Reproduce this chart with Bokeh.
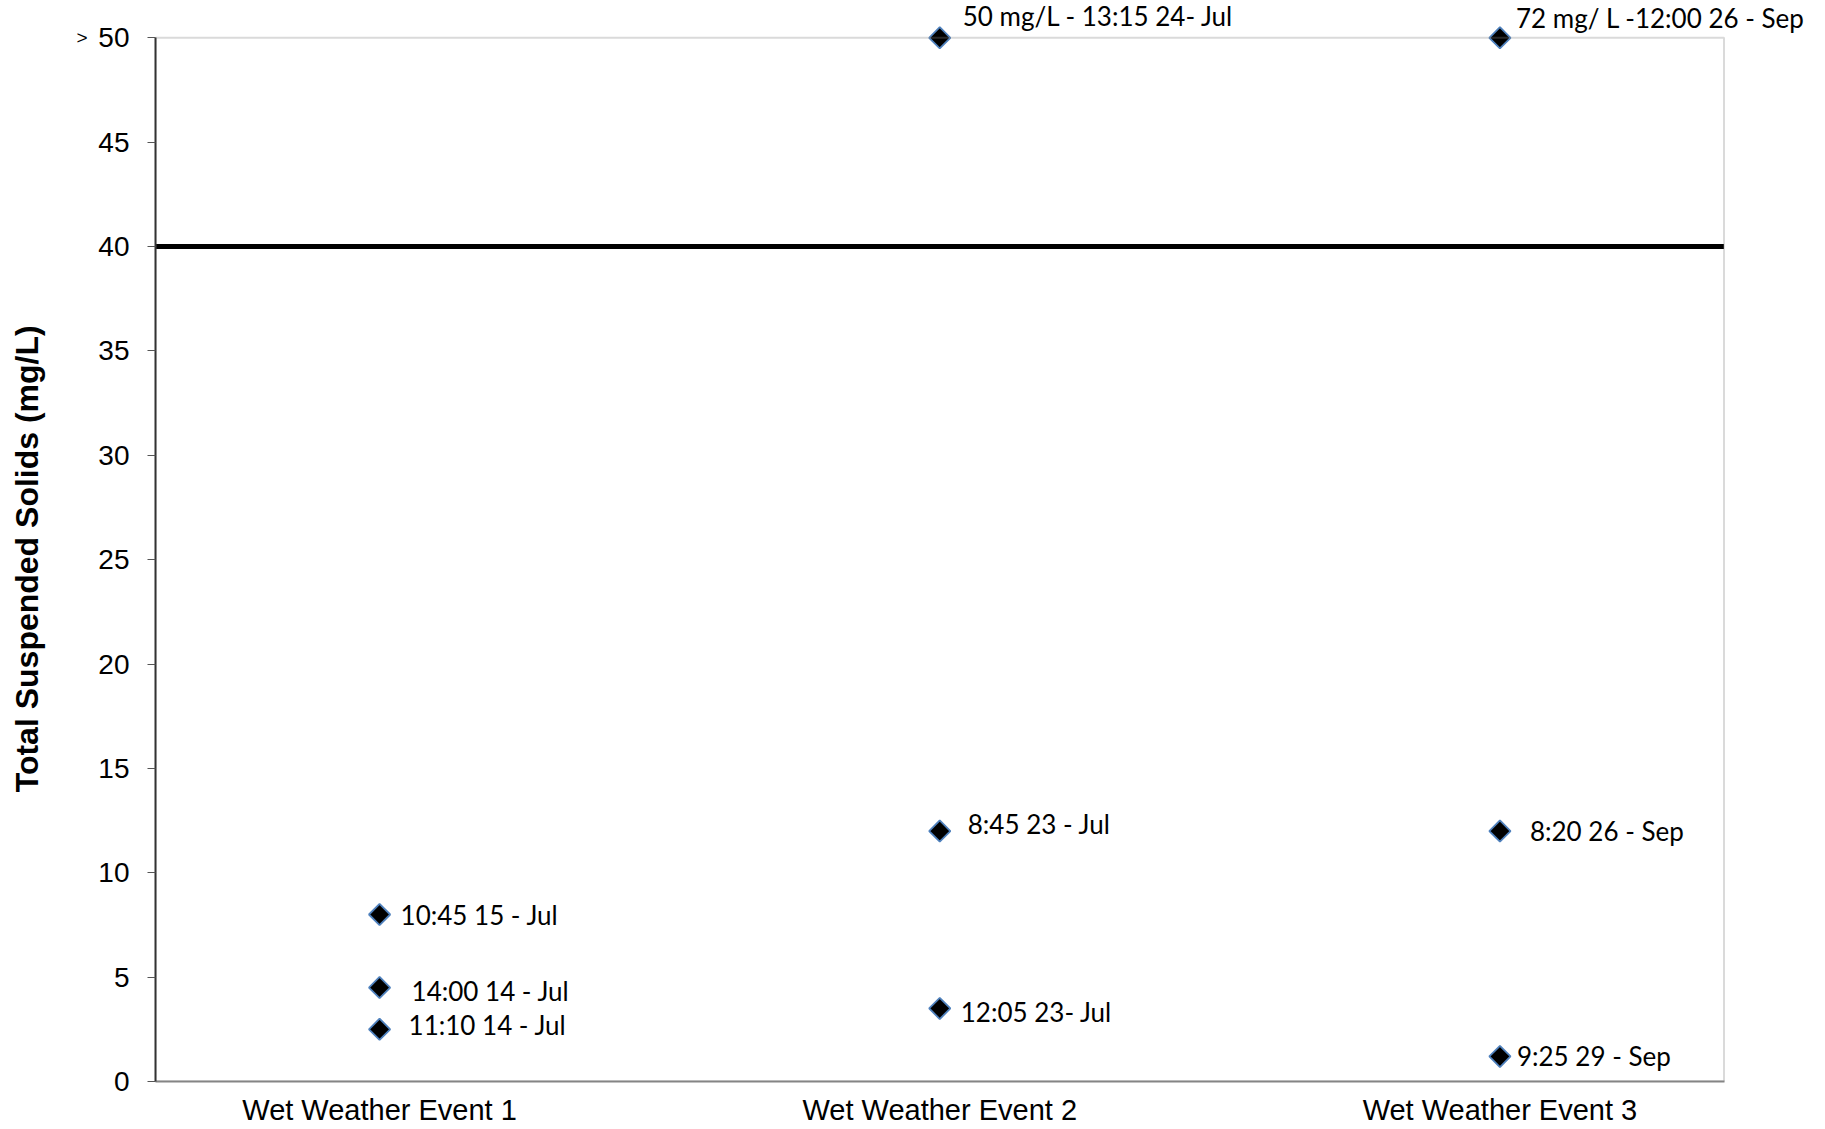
import math
from bokeh.plotting import figure
from bokeh.models import Range1d, FixedTicker, Label, BoxAnnotation, LinearAxis
from bokeh.embed import file_html
from bokeh.resources import INLINE

# ---- data ----
events = ["Wet Weather Event 1", "Wet Weather Event 2", "Wet Weather Event 3"]
event_pos = [1, 2, 3]
point_event = [1, 1, 1, 2, 2, 2, 3, 3, 3]
tss = [8.0, 4.5, 2.5, 12.0, 3.5, 50.0, 12.0, 1.2, 50.0]
point_labels = ["10:45 15 - Jul", "14:00 14 - Jul", "11:10 14 - Jul",
                "8:45 23 - Jul", "12:05 23- Jul", "50 mg/L - 13:15 24- Jul",
                "8:20 26 - Sep", "9:25 29 - Sep", "72 mg/ L -12:00 26 - Sep"]
y_ticks = [0, 5, 10, 15, 20, 25, 30, 35, 40, 45, 50]
y_title = "Total Suspended Solids (mg/L)"
threshold = 40
y_max = 50

# ---- style (label offsets in screen px) ----
lab_dx = [21, 32, 29, 28, 21, 23, 30, 17, 16]
lab_dy = [0, -3, 4, 7, -4, 22, 0, 0, 20]

W, H = 1825, 1129
FL, FR, FT, FB = 155, 1723.5, 37.3, 1081   # visible plot box in px
X0, X1 = 0.6, 3.4
x_end = X0 + (X1 - X0) * (W - FL) / (FR - FL)
y_end = y_max * FB / (FB - FT)

p = figure(width=W, height=H, x_range=Range1d(X0, x_end), y_range=Range1d(0, y_end),
           output_backend="svg", toolbar_location=None,
           min_border_left=FL, min_border_right=0, min_border_top=0, min_border_bottom=H - FB)
p.background_fill_color = "white"
p.border_fill_color = "white"
p.outline_line_color = None
p.xgrid.grid_line_color = None
p.ygrid.grid_line_color = None

# visible plot box (0..50)
p.add_layout(BoxAnnotation(left=X0, right=X1, bottom=0, top=y_max, fill_alpha=0,
                           line_color="#858585", line_width=2))

# threshold line
p.segment(x0=[X0], y0=[threshold], x1=[X1], y1=[threshold], line_color="black", line_width=5)

# y axis (numbers)
ya = p.yaxis[0]
ya.ticker = FixedTicker(ticks=y_ticks)
ya.bounds = (0, y_max)
ya.axis_line_color = "#333333"
ya.axis_line_width = 2
ya.major_tick_out = 8
ya.major_tick_in = 0
ya.major_tick_line_color = "#555555"
ya.minor_tick_line_color = None
ya.major_label_text_font = "Liberation Sans"
ya.major_label_text_font_size = "28px"
ya.major_label_text_color = "black"
ya.major_label_standoff = 18
ya.level = "overlay"

# second left axis: ">" mark at top value and the axis title
yb = LinearAxis(ticker=FixedTicker(ticks=[y_max]), major_label_overrides={y_max: ">"})
yb.axis_line_color = None
yb.major_tick_line_color = None
yb.minor_tick_line_color = None
yb.major_tick_out = 0
yb.major_tick_in = 0
yb.major_label_text_font = "Liberation Sans"
yb.major_label_text_font_size = "19px"
yb.major_label_text_color = "black"
yb.major_label_standoff = 8
# trailing no-break spaces centre the title on the 0..50 box rather than the whole frame
yb.axis_label = y_title + "\u00a0" * 4
yb.axis_label_text_font = "Liberation Sans"
yb.axis_label_text_font_style = "bold"
yb.axis_label_text_font_size = "32px"
yb.axis_label_text_color = "black"
yb.axis_label_standoff = 28
p.add_layout(yb, "left")

# x axis
xa = p.xaxis[0]
xa.ticker = FixedTicker(ticks=event_pos)
xa.bounds = (X0, X1)
xa.major_label_overrides = {pos: name for pos, name in zip(event_pos, events)}
xa.axis_line_color = "#858585"
xa.axis_line_width = 2
xa.major_tick_line_color = None
xa.minor_tick_line_color = None
xa.major_tick_out = 0
xa.major_tick_in = 0
xa.major_label_text_font = "Liberation Sans"
xa.major_label_text_font_size = "29px"
xa.major_label_text_color = "black"
xa.major_label_standoff = 12

# points
p.scatter(point_event, tss, marker="square", angle=math.pi / 4, size=15,
          fill_color="black", line_color="#4F81BD", line_width=1.8)

# point labels
for xv, yv, t, dx, dy in zip(point_event, tss, point_labels, lab_dx, lab_dy):
    p.add_layout(Label(x=xv, y=yv, text=t, x_offset=dx, y_offset=dy,
                       text_align="left", text_baseline="middle",
                       text_font="Lato", text_font_size="26px", text_color="black"))

open("out.html", "w").write(file_html(p, INLINE))
